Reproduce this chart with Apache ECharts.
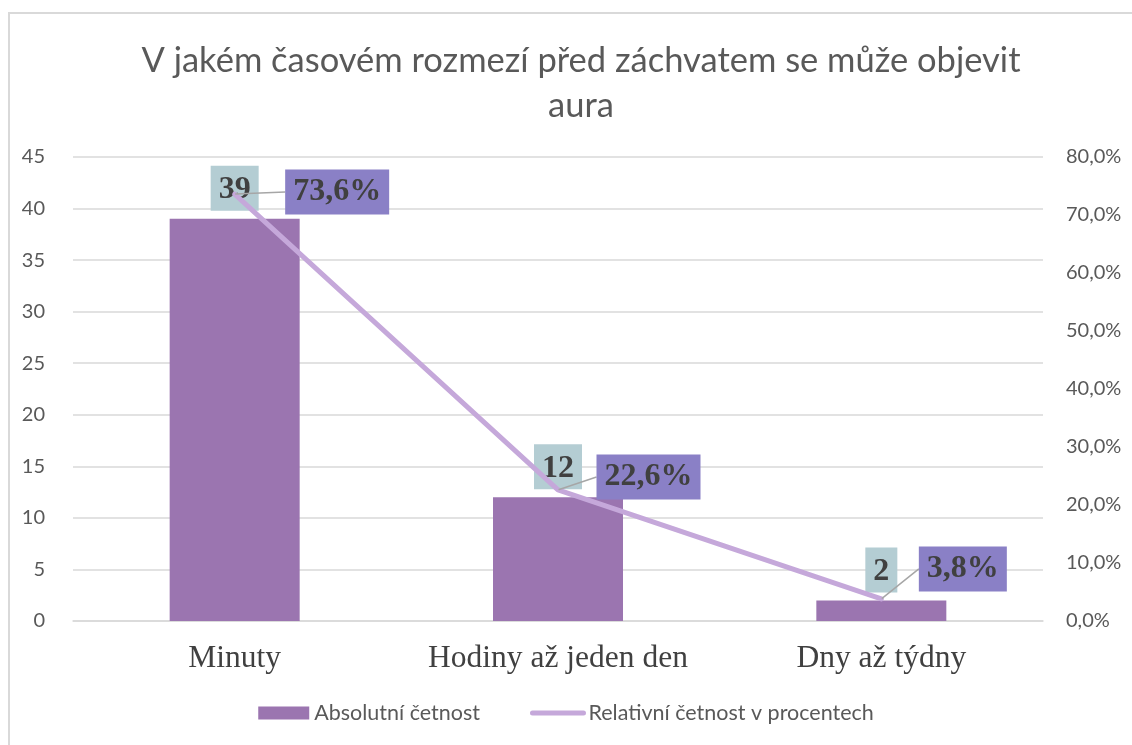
<!DOCTYPE html>
<html>
<head>
<meta charset="utf-8">
<script src="https://cdn.jsdelivr.net/npm/echarts@6/dist/echarts.min.js"></script>
<style>
  html, body { margin: 0; padding: 0; background: #fff; }
  .frame {
    position: absolute; left: 8px; top: 12px;
    width: 1300px; height: 900px;
    border: 2px solid #d9d9d9; box-sizing: border-box;
  }
  #chart { position: absolute; left: 0; top: 0; width: 1132px; height: 745px; }
</style>
</head>
<body>
<div class="frame"></div>
<div id="chart"></div>
<script>
// data
const categories = ['Minuty', 'Hodiny až jeden den', 'Dny až týdny']
const absolutni = [39, 12, 2]
const relativni = [73.6, 22.6, 3.8] // v procentech
const nameA = 'Absolutní četnost'
const nameB = 'Relativní četnost v procentech'

// posun popisku procent (dx, dy) – ruční rozmístění jako v Excelu
const pctLabelShift = [[45, -2], [33, -13], [32, -30]]

const fmtPct = v => v.toFixed(1).replace('.', ',') + '%'

const instance = echarts.init(document.getElementById('chart'))

instance.setOption({
  animation: false,
  title: {
    text: 'V jakém časovém rozmezí před záchvatem se může objevit\naura',
    left: 576,
    top: 33,
    textAlign: 'center',
    textStyle: {
      fontFamily: 'Lato',
      fontWeight: 'normal',
      fontSize: 34.5,
      lineHeight: 45,
      color: '#595959'
    }
  },
  legend: {
    bottom: 16,
    left: 'center',
    itemWidth: 51,
    itemHeight: 13,
    itemGap: 50,
    textStyle: { fontFamily: 'Lato', fontSize: 21.5, color: '#595959' },
    data: [
      { name: nameA, icon: 'rect' },
      { name: nameB, itemStyle: { opacity: 0 }, lineStyle: { width: 5, cap: 'round' } }
    ]
  },
  grid: { left: 73, right: 89, top: 157, bottom: 124 },
  xAxis: {
    type: 'category',
    data: categories,
    axisTick: { show: false },
    axisLine: { lineStyle: { color: '#d9d9d9', width: 1.5 } },
    axisLabel: {
      interval: 0,
      hideOverlap: false,
      fontFamily: 'Liberation Serif',
      fontSize: 31.5,
      color: '#404040',
      margin: 22
    }
  },
  yAxis: [
    {
      type: 'value',
      min: 0,
      max: 45,
      interval: 5,
      axisLine: { show: false },
      axisTick: { show: false },
      splitLine: { lineStyle: { color: '#d9d9d9', width: 1.5 } },
      axisLabel: { fontFamily: 'Lato', fontSize: 20, color: '#595959', margin: 28 }
    },
    {
      type: 'value',
      min: 0,
      max: 80,
      interval: 10,
      axisLine: { show: false },
      axisTick: { show: false },
      splitLine: { show: false },
      axisLabel: {
        fontFamily: 'Lato', fontSize: 20, color: '#595959', margin: 23,
        formatter: v => fmtPct(v)
      }
    }
  ],
  series: [
    {
      name: nameA,
      type: 'bar',
      barWidth: 130,
      itemStyle: { color: '#9b75b0' },
      data: absolutni,
      label: {
        show: true,
        position: 'top',
        distance: 8,
        fontFamily: 'Liberation Serif',
        fontWeight: 'bold',
        fontSize: 32,
        color: '#404040',
        backgroundColor: '#b4cdd3',
        padding: [8, 8, 5, 8]
      },
      z: 2
    },
    {
      name: nameB,
      type: 'line',
      yAxisIndex: 1,
      data: relativni,
      symbol: 'circle',
      symbolSize: 1,
      itemStyle: { color: '#c5a8da' },
      lineStyle: { color: '#c5a8da', width: 5, cap: 'round' },
      label: {
        show: true,
        position: 'right',
        distance: 5,
        formatter: p => fmtPct(p.value),
        fontFamily: 'Liberation Serif',
        fontWeight: 'bold',
        fontSize: 32,
        color: '#404040',
        backgroundColor: '#8a80c6',
        padding: [8, 8, 5, 8]
      },
      labelLine: { show: true, lineStyle: { color: '#a6a6a6', width: 1.5 } },
      labelLayout: params => {
        const s = pctLabelShift[params.dataIndex] || [0, 0]
        return { dx: s[0], dy: s[1] }
      },
      z: 3
    }
  ]
})

window.addEventListener('resize', () => instance.resize())
</script>
</body>
</html>
